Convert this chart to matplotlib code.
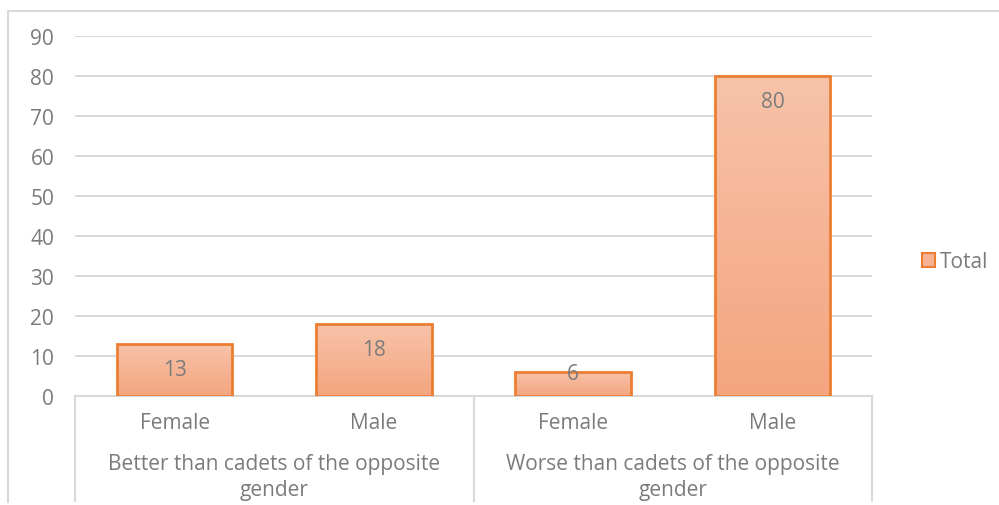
import numpy as np
import matplotlib.pyplot as plt
from matplotlib.patches import Patch
from matplotlib.lines import Line2D
from matplotlib.colors import LinearSegmentedColormap
import matplotlib.transforms as mtransforms

# counts per group / gender
groups = ["Better than cadets of the opposite\ngender", "Worse than cadets of the opposite\ngender"]
genders = ["Female", "Male", "Female", "Male"]
totals = [13, 18, 6, 80]
series_name = "Total"

text_grey = "#7b7b7b"
grid_grey = "#d9d9d9"
edge_orange = "#ED7D31"
grad = LinearSegmentedColormap.from_list("barfill", ["#F4A57F", "#F7C3A9"])
fs = 15

plt.rcParams["font.family"] = ["Open Sans", "DejaVu Sans"]

fig = plt.figure(figsize=(9.99, 5.06), dpi=100)
ax = fig.add_axes([75 / 999, 109 / 506, 797 / 999, 360 / 506])

x = np.arange(len(totals))
bars = ax.bar(x, totals, width=0.58, facecolor="none", edgecolor=edge_orange,
              linewidth=2, zorder=3)

# vertical gradient inside each bar
gradient = np.linspace(0, 1, 256).reshape(-1, 1)
for b in bars:
    im = ax.imshow(gradient, cmap=grad, origin="lower", aspect="auto",
                   extent=[b.get_x(), b.get_x() + b.get_width(), 0, b.get_height()],
                   zorder=2)
    im.set_clip_path(b)

ax.set_xlim(-0.5, len(totals) - 0.5)
ax.set_ylim(0, 90)
ax.set_yticks(range(0, 91, 10))
ax.yaxis.grid(True, color=grid_grey, linewidth=1.5)
ax.set_axisbelow(True)
for s in ax.spines.values():
    s.set_visible(False)
ax.tick_params(axis="y", length=0, pad=15, labelsize=fs, labelcolor=text_grey)
ax.set_xticks([])

# value labels just inside the top of each bar
px_per_unit = ax.bbox.height / 90
for xi, v in zip(x, totals):
    off = -26 if v * px_per_unit > 40 else -2
    ax.annotate(str(v), (xi, v), xytext=(0, off), textcoords="offset pixels",
                ha="center", va="center", fontsize=fs, color=text_grey)

# two-level category axis
trans = mtransforms.blended_transform_factory(ax.transData, ax.transAxes)
bottom = -109 / 360
ax.add_line(Line2D([-0.5, len(totals) - 0.5], [0, 0], transform=trans,
                   color=grid_grey, linewidth=1.5, clip_on=False))
for sep in [-0.5, 1.5, 3.5]:
    ax.add_line(Line2D([sep, sep], [0, bottom + 0.01], transform=trans,
                       color=grid_grey, linewidth=1.5, clip_on=False))
for xi, g in zip(x, genders):
    ax.text(xi, -27 / 360, g, transform=trans, ha="center", va="center",
            fontsize=fs, color=text_grey)
for gi, g in enumerate(groups):
    ax.text(gi * 2 + 0.5, -57 / 360, g, transform=trans, ha="center", va="top",
            fontsize=fs, color=text_grey, linespacing=1.3)

# chart frame (top and left edges)
fig.add_artist(Line2D([8 / 999, 1], [1 - 12 / 506, 1 - 12 / 506],
                      color=grid_grey, linewidth=1.5))
fig.add_artist(Line2D([8 / 999, 8 / 999], [1 - 12 / 506, 3 / 506],
                      color=grid_grey, linewidth=1.5))

handle = Patch(facecolor="#F6B393", edgecolor=edge_orange, linewidth=1.5)
fig.legend([handle], [series_name], loc="center left",
           bbox_to_anchor=(903 / 999, 1 - 263 / 506), frameon=False,
           handlelength=0.65, handleheight=0.65, handletextpad=0.2,
           fontsize=fs, labelcolor=text_grey)

fig.savefig("out.png", dpi=100)
